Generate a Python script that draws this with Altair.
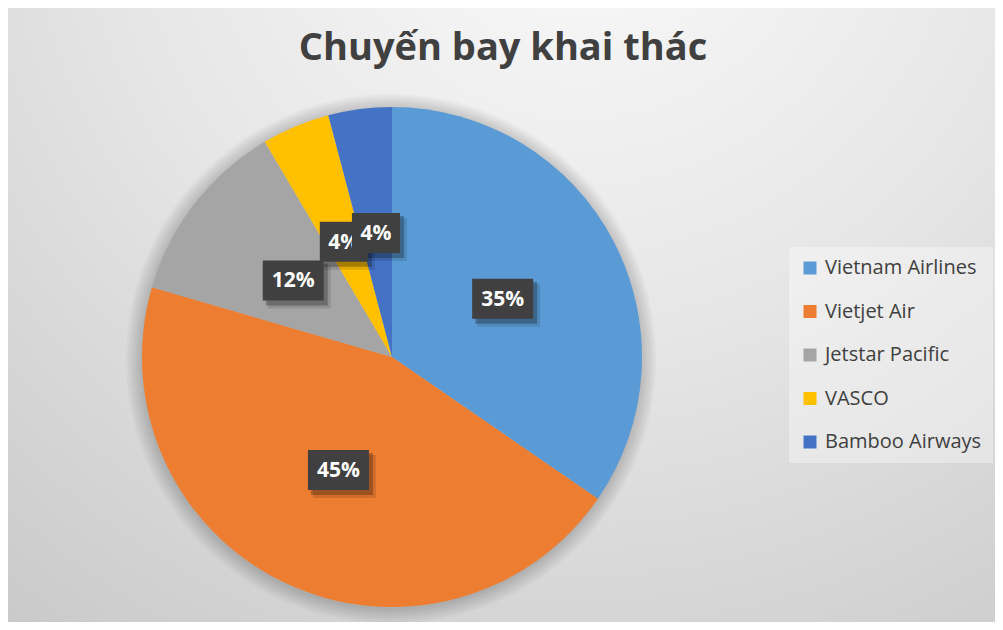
import altair as alt
import pandas as pd

# ---- data ----
airlines = ["Vietnam Airlines", "Vietjet Air", "Jetstar Pacific", "VASCO", "Bamboo Airways"]
shares = [34.6, 44.9, 12.0, 4.4, 4.1]
colors = ["#5B9BD5", "#ED7D31", "#A5A5A5", "#FFC000", "#4472C4"]
title_text = "Chuyến bay khai thác"

W, H = 987, 614
CX, CY, R = 384, 349, 250
LR = 125  # label radius

df = pd.DataFrame({
    "airline": airlines,
    "share": shares,
    "idx": list(range(len(airlines))),
})
df["label"] = [f"{round(v)}%" for v in shares]

base = alt.Chart(df)

# background radial gradient
bg = alt.Chart(pd.DataFrame({"a": [0]})).mark_rect(
    color=alt.RadialGradient(
        gradient="radial",
        stops=[alt.GradientStop(color="#fbfbfb", offset=0),
               alt.GradientStop(color="#e6e6e6", offset=0.45),
               alt.GradientStop(color="#c4c4c4", offset=1)],
        x1=0.58, y1=0.05, x2=0.58, y2=0.05, r1=0, r2=1.05,
    )
).encode(x=alt.value(0), x2=alt.value(W), y=alt.value(0), y2=alt.value(H))

# soft glow around pie
glow_layers = []
for r in range(251, 266, 2):
    glow_layers.append(
        alt.Chart(pd.DataFrame({"a": [0]})).mark_arc(
            radius=r, theta=0, theta2=6.2832, color="black", opacity=0.022
        ).encode(x=alt.value(CX - 1), y=alt.value(CY + 2))
    )

pie = base.mark_arc(radius=R).encode(
    theta=alt.Theta("share:Q", stack=True),
    color=alt.Color(
        "airline:N",
        scale=alt.Scale(domain=airlines, range=colors),
        sort=airlines,
        legend=alt.Legend(
            title=None,
            orient="none",
            legendX=781,
            legendY=239,
            padding=11,
            fillColor="rgba(255,255,255,0.35)",
            symbolType="square",
            symbolSize=169,
            symbolStrokeWidth=0,
            labelFont="Open Sans",
            labelFontSize=20,
            labelColor="#404040",
            labelOffset=5,
            rowPadding=23.5,
            labelLimit=300,
        ),
    ),
    order=alt.Order("idx:Q"),
    x=alt.value(CX),
    y=alt.value(CY),
)

# label positions computed from stacked shares
lab = base.transform_window(
    cum="sum(share)", sort=[alt.SortField("idx")], frame=[None, 0]
).transform_joinaggregate(
    total="sum(share)"
).transform_calculate(
    mid="(datum.cum - datum.share/2) / datum.total * 2 * PI",
    lx=f"{CX} + {LR} * sin(datum.mid)",
    ly=f"{CY} - {LR} * cos(datum.mid)",
    bw="13 * length(datum.label) + 22",
    bx1="datum.lx - datum.bw/2",
    bx2="datum.lx + datum.bw/2",
    by1="datum.ly - 20",
    by2="datum.ly + 20",
    sx1="datum.bx1 + 3", sx2="datum.bx2 + 4",
    sy1="datum.by1 + 3", sy2="datum.by2 + 5",
    tx1="datum.bx1 + 5", tx2="datum.bx2 + 7",
    ty1="datum.by1 + 5", ty2="datum.by2 + 8",
)

shadow2 = lab.mark_rect(color="black", opacity=0.12).encode(
    x=alt.X("tx1:Q", scale=None), x2="tx2:Q",
    y=alt.Y("ty1:Q", scale=None), y2="ty2:Q",
)
shadow1 = lab.mark_rect(color="black", opacity=0.25).encode(
    x=alt.X("sx1:Q", scale=None), x2="sx2:Q",
    y=alt.Y("sy1:Q", scale=None), y2="sy2:Q",
)

label_layers = []
for i in range(len(airlines)):
    sub = lab.transform_filter(f"datum.idx == {i}")
    box = sub.mark_rect(color="#404040").encode(
        x=alt.X("bx1:Q", scale=None), x2="bx2:Q",
        y=alt.Y("by1:Q", scale=None), y2="by2:Q",
    )
    txt = sub.mark_text(
        font="Open Sans", fontSize=21, fontWeight="bold", color="white",
        align="center", baseline="middle", dy=1,
    ).encode(
        x=alt.X("lx:Q", scale=None),
        y=alt.Y("ly:Q", scale=None),
        text="label:N",
    )
    label_layers += [box, txt]

title = alt.Chart(pd.DataFrame({"t": [title_text]})).mark_text(
    font="Open Sans", fontSize=38, fontWeight="bold", color="#404040",
    align="center", baseline="alphabetic",
).encode(x=alt.value(495), y=alt.value(52), text="t:N")

chart = alt.layer(
    bg, *glow_layers, pie, shadow2, shadow1, *label_layers, title
).properties(
    width=W, height=H, padding=0,
    autosize=alt.AutoSizeParams(type="none"),
).configure_view(stroke=None)

chart.save("out.html", embed_options={"renderer": "svg", "actions": False})
